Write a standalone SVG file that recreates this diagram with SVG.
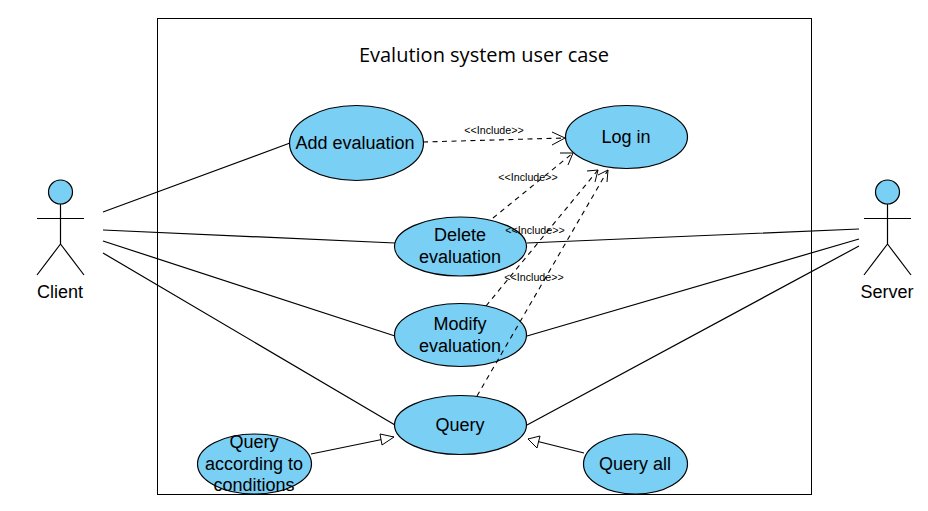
<svg xmlns="http://www.w3.org/2000/svg" width="928" height="511" viewBox="0 0 928 511">
<style>
text{font-family:"Liberation Sans",Arial,sans-serif;fill:#000;text-anchor:middle}
.t{font-size:18px}
.s{font-size:10.670px}
.u{fill:#7ACFF5;stroke:#000;stroke-width:1.200}
.l{fill:none;stroke:#000;stroke-width:1.200}
.d{fill:none;stroke:#000;stroke-width:1.100;stroke-dasharray:5 4.500}
.o{fill:none;stroke:#000;stroke-width:1}
.g{fill:#fff;stroke:#000;stroke-width:1}
</style>
<rect id="boundary" x="157.500" y="18.500" width="654" height="476" fill="#fff" stroke="#000" stroke-width="1"/>
<text id="title" x="484" y="62" style="font-family:'Open Sans',sans-serif;font-size:20px">Evalution system user case</text>
<g id="connectors">
<path class="l" d="M103 212L290 143M103 230L395 243M103 241L395 336M103 253L395 425M527 243L859 229M527 336L859 239M527 425L859 246"/>
<path class="l" d="M311 454L394 437M584 453L528 439"/>
<polygon class="g" points="394,437 382,445 380,434"/>
<polygon class="g" points="528,439 540,436 537,448"/>
</g>
<g id="add-evaluation"><ellipse class="u" cx="356.500" cy="143" rx="67" ry="37.500"/><text class="t" x="355" y="149">Add evaluation</text></g>
<g id="log-in"><ellipse class="u" cx="626.500" cy="137" rx="61" ry="31.500"/><text class="t" x="626" y="143">Log in</text></g>
<g id="delete-evaluation"><ellipse class="u" cx="460.500" cy="246.500" rx="66" ry="29.500"/><text class="t" x="460" y="241">Delete</text><text class="t" x="460" y="263">evaluation</text></g>
<g id="modify-evaluation"><ellipse class="u" cx="460.500" cy="335" rx="66" ry="31.500"/><text class="t" x="460" y="330">Modify</text><text class="t" x="460" y="352">evaluation</text></g>
<g id="query"><ellipse class="u" cx="460.500" cy="425" rx="66" ry="29.500"/><text class="t" x="460" y="431">Query</text></g>
<g id="query-conditions"><ellipse class="u" cx="254.500" cy="464" rx="57" ry="30"/><text class="t" x="254" y="448">Query</text><text class="t" x="254" y="470">according to</text><text class="t" x="254" y="491">conditions</text></g>
<g id="query-all"><ellipse class="u" cx="635.500" cy="464" rx="52" ry="30"/><text class="t" x="635" y="470">Query all</text></g>
<g id="client"><circle class="u" cx="60.500" cy="192" r="12"/><path class="l" d="M60.500 204V244M37 218.500H84M60.500 244L37 275M60.500 244L84 275"/><text class="t" x="60" y="298">Client</text></g>
<g id="server"><circle class="u" cx="887.500" cy="192" r="12"/><path class="l" d="M887.500 204V244M864 218.500H911M887.500 244L864 275M887.500 244L911 275"/><text class="t" x="887" y="298">Server</text></g>
<g id="include-connectors">
<path class="d" d="M423 142L565 138M493 218L573 153M486 306L598 170M477 396L608 170"/>
<path class="o" d="M552 132L565 138L552 145M560 153L573 153L568 165M587 171L598 170L595 182M598 175L608 170L607 182"/>
</g>
<text class="s" x="494" y="134">&lt;&lt;Include&gt;&gt;</text>
<text class="s" x="528" y="181">&lt;&lt;Include&gt;&gt;</text>
<text class="s" x="535" y="234">&lt;&lt;Include&gt;&gt;</text>
<text class="s" x="534" y="281">&lt;&lt;Include&gt;&gt;</text>
</svg>
